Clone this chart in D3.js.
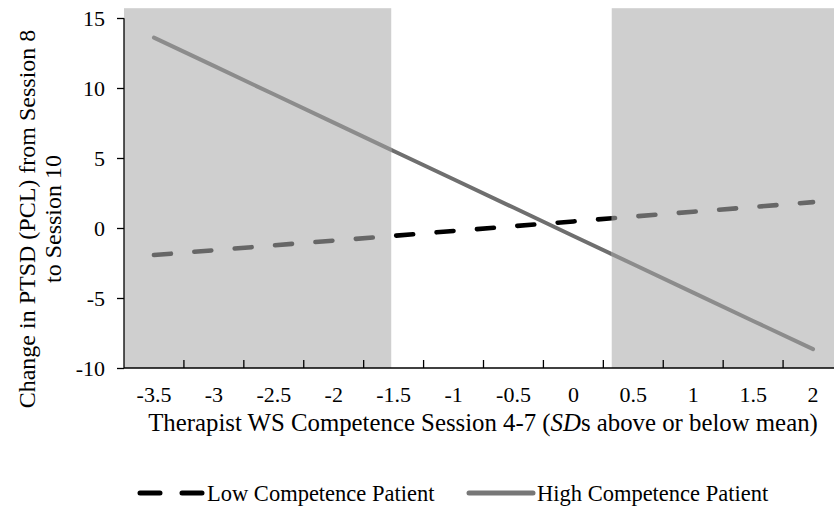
<!DOCTYPE html>
<html>
<head>
<meta charset="utf-8">
<script src="https://cdn.jsdelivr.net/npm/d3@7"></script>
<style>
  body { margin: 0; background: #fff; }
  svg { display: block; font-family: "Liberation Serif", "Times New Roman", serif; }
</style>
</head>
<body>
<div id="chart"></div>
<script>
const W = 834;
const H = 506;

// therapist competence, SDs from the mean
const categories = ['-3.5', '-3', '-2.5', '-2', '-1.5', '-1', '-0.5', '0', '0.5', '1', '1.5', '2'];
const sdValues = [-3.5, -3, -2.5, -2, -1.5, -1, -0.5, 0, 0.5, 1, 1.5, 2];
const lowPatient = [-1.93, -1.59, -1.24, -0.90, -0.56, -0.21, 0.13, 0.47, 0.82, 1.16, 1.50, 1.85];
const highPatient = [13.6, 11.58, 9.55, 7.53, 5.50, 3.48, 1.46, -0.57, -2.59, -4.62, -6.64, -8.65];
// regions of significance (shaded), in SD units
const regionBounds = [-1.52, 0.32];
const shadeTop = 15.7;
const yTicks = [-10, -5, 0, 5, 10, 15];

const plot = { left: 124, right: 843, top: 18, bottom: 368 };

const svg = d3.select('#chart').append('svg')
  .attr('width', W)
  .attr('height', H);

const x = d3.scaleBand().domain(categories).range([plot.left, plot.right]);
const xs = d3.scaleLinear()
  .domain([sdValues[0], sdValues[sdValues.length - 1]])
  .range([x(categories[0]) + x.bandwidth() / 2, x(categories[categories.length - 1]) + x.bandwidth() / 2]);
const y = d3.scaleLinear().domain([-10, 15]).range([plot.bottom, plot.top]);

const defs = svg.append('defs');
const shadeRects = [
  { x0: plot.left, x1: xs(regionBounds[0]) },
  { x0: xs(regionBounds[1]), x1: plot.right }
];
const clipIn = defs.append('clipPath').attr('id', 'clip-in');
clipIn.selectAll('rect').data(shadeRects).join('rect')
  .attr('x', d => d.x0).attr('width', d => d.x1 - d.x0)
  .attr('y', 0).attr('height', H);
defs.append('clipPath').attr('id', 'clip-out').append('rect')
  .attr('x', shadeRects[0].x1).attr('width', shadeRects[1].x0 - shadeRects[0].x1)
  .attr('y', 0).attr('height', H);

svg.append('g').selectAll('rect').data(shadeRects).join('rect')
  .attr('x', d => d.x0)
  .attr('width', d => d.x1 - d.x0)
  .attr('y', y(shadeTop))
  .attr('height', y(-10) - y(shadeTop))
  .attr('fill', '#cfcfcf');

const line = d3.line()
  .x((d, i) => x(categories[i]) + x.bandwidth() / 2)
  .y(d => y(d));

const series = [
  { values: highPatient, inColor: '#8c8c8c', outColor: '#6f6f6f', dash: null, width: 4 },
  { values: lowPatient, inColor: '#676767', outColor: '#000', dash: '17,23.5', width: 4.6 }
];

series.forEach(s => {
  [['clip-in', s.inColor], ['clip-out', s.outColor]].forEach(([clip, color]) => {
    svg.append('path')
      .datum(s.values)
      .attr('d', line)
      .attr('clip-path', `url(#${clip})`)
      .attr('fill', 'none')
      .attr('stroke', color)
      .attr('stroke-width', s.width)
      .attr('stroke-linecap', 'round')
      .attr('stroke-dasharray', s.dash);
  });
});

// axes
const yAxis = svg.append('g')
  .attr('transform', `translate(${plot.left},0)`)
  .call(d3.axisLeft(y).tickValues(yTicks).tickSize(7).tickPadding(12).tickFormat(d => String(d)));
yAxis.select('.domain').attr('d', `M0,${y(shadeTop) + 10}V${plot.bottom}`);

const xAxis = svg.append('g')
  .attr('transform', `translate(0,${plot.bottom})`)
  .call(d3.axisBottom(x).tickSize(0).tickPadding(18));
xAxis.select('.domain').attr('d', `M${plot.left},0H${plot.right}`);
xAxis.selectAll('.between').data(categories.slice(1)).join('line')
  .attr('class', 'between')
  .attr('x1', d => x(d)).attr('x2', d => x(d))
  .attr('y1', -8).attr('y2', 0)
  .attr('stroke', '#000');

svg.selectAll('.domain, .tick line, .between').attr('stroke', '#000').attr('stroke-width', 1.3);
svg.selectAll('.tick text')
  .attr('fill', '#000')
  .style('font-size', '22px')
  .style('font-family', '"Liberation Serif", serif');

// axis titles
const yTitle = svg.append('text')
  .attr('transform', 'translate(35,219) rotate(-90)')
  .attr('text-anchor', 'middle')
  .style('font-size', '24px');
yTitle.append('tspan').attr('x', 0).attr('dy', 0).text('Change in PTSD (PCL) from Session 8');
yTitle.append('tspan').attr('x', 0).attr('dy', 26).text('to Session 10');

const xTitle = svg.append('text')
  .attr('x', 483)
  .attr('y', 431)
  .attr('text-anchor', 'middle')
  .style('font-size', '24.8px');
xTitle.append('tspan').text('Therapist WS Competence Session 4-7 (');
xTitle.append('tspan').style('font-style', 'italic').text('SD');
xTitle.append('tspan').text('s above or below mean)');

// legend
const legend = svg.append('g').attr('transform', 'translate(0,493)');
legend.append('path')
  .attr('d', 'M140,0H204')
  .attr('stroke', '#000')
  .attr('stroke-width', 5)
  .attr('stroke-linecap', 'round')
  .attr('stroke-dasharray', '20,22');
legend.append('text').attr('x', 207).attr('y', 8).style('font-size', '22.5px').text('Low Competence Patient');
legend.append('path')
  .attr('d', 'M469,0H533')
  .attr('stroke', '#777')
  .attr('stroke-width', 5)
  .attr('stroke-linecap', 'round');
legend.append('text').attr('x', 537).attr('y', 8).style('font-size', '22.5px').text('High Competence Patient');
</script>
</body>
</html>
